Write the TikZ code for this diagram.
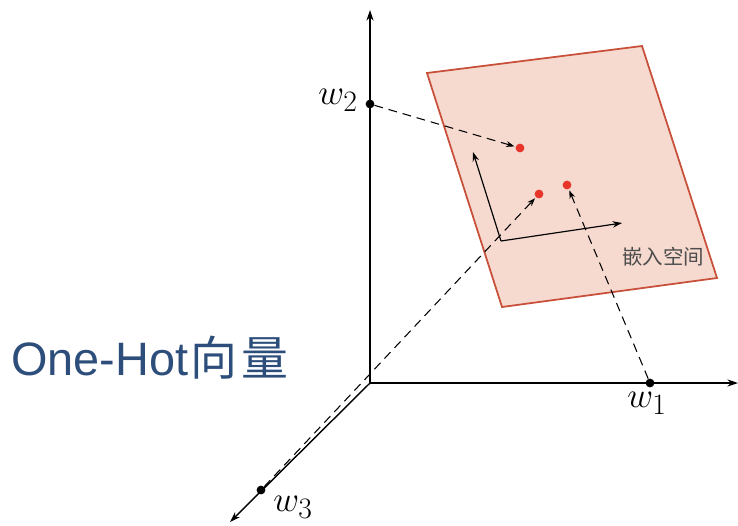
\documentclass[tikz,border=0pt]{standalone}
\usepackage{graphicx}
\usepackage{fontspec}
\setmainfont{Liberation Sans}
\newfontfamily\cjk{Noto Sans CJK SC}
\usepackage{tikz}
\usetikzlibrary{positioning,arrows.meta}
\definecolor{planefill}{RGB}{246,218,207}
\definecolor{planeedge}{RGB}{200,80,58}
\definecolor{embred}{RGB}{232,52,42}
\definecolor{titleblue}{RGB}{45,78,122}
\newcommand{\wlab}[1]{\scalebox{1.22}{$w_{#1}$}}
\tikzset{
	axis/.style={line width=1.2pt,-{Stealth[length=9pt,width=6pt]}},
	proj/.style={line width=0.9pt,dash pattern=on 7.5pt off 5pt,-{Stealth[length=7pt,width=5pt]},shorten >=1pt},
	onehot/.style={circle,fill=black,inner sep=0pt,minimum size=7.5pt},
	embdot/.style={circle,fill=embred,inner sep=0pt,minimum size=7.5pt},
	wlabel/.style={font=\fontsize{24.88}{30}\selectfont,inner sep=0pt}
}
\begin{document}
\begin{tikzpicture}[x=0.03cm,y=-0.03cm]
		
		\useasboundingbox (0,0) rectangle (738,525);
		
		% embedding plane
		\coordinate (P1) at (427,73);
		\coordinate (P2) at (642,46);
		\coordinate (P3) at (717,278);
		\coordinate (P4) at (502,307);
		\draw[
		line width=1.5pt,
		draw=planeedge,
		fill=planefill
		]
		(P1)--(P2)--(P3)--(P4)--cycle;
		
		% axes
		\coordinate (O) at (370,383);
		\coordinate (X) at (738,383);
		\coordinate (Y) at (370,10);
		\coordinate (Z) at (230,522);
		\draw[axis] (O)--(X);
		\draw[axis] (O)--(Y);
		\draw[axis] (O)--(Z);
		
		% axes inside the plane
		\coordinate (C) at (501,241);
		\coordinate (CU) at (473,152);
		\coordinate (CR) at (622,223);
		\draw[line width=1pt,-{Stealth[length=8pt,width=5.5pt]}] (C)--(CU);
		\draw[line width=1pt,-{Stealth[length=8pt,width=5.5pt]}] (C)--(CR);
		
		\node[
		text=black!70,
		font=\cjk\fontsize{17.5}{20}\selectfont
		]
		(ES)
		at (663,257)
		{嵌入空间};
		
		% one-hot points
		\node[onehot] (W1) at (650,383) {};
		\node[onehot] (W2) at (370,104) {};
		\node[onehot] (W3) at (261,490) {};
		
		\node[wlabel] (L1) at (647,403) {\wlab{1}};
		\node[wlabel] (L2) at (338,100) {\wlab{2}};
		\node[wlabel] (L3) at (293,507) {\wlab{3}};
		
		% embedded points
		\node[embdot] (E1) at (520,148) {};
		\node[embdot] (E2) at (539,194) {};
		\node[embdot] (E3) at (567,185) {};
		
		\draw[proj] (W2)--(E1);
		\draw[proj] (W3)--(E2);
		\draw[proj] (W1)--(E3);
		
		\node[
		text=titleblue,
		font=\fontsize{40}{48}\selectfont,
		anchor=base west,
		inner sep=0pt
		]
		(T)
		at (11,375)
		{One-Hot{\cjk\hspace{2pt}向\hspace{3pt}量}};
		
	\end{tikzpicture}
\end{document}
